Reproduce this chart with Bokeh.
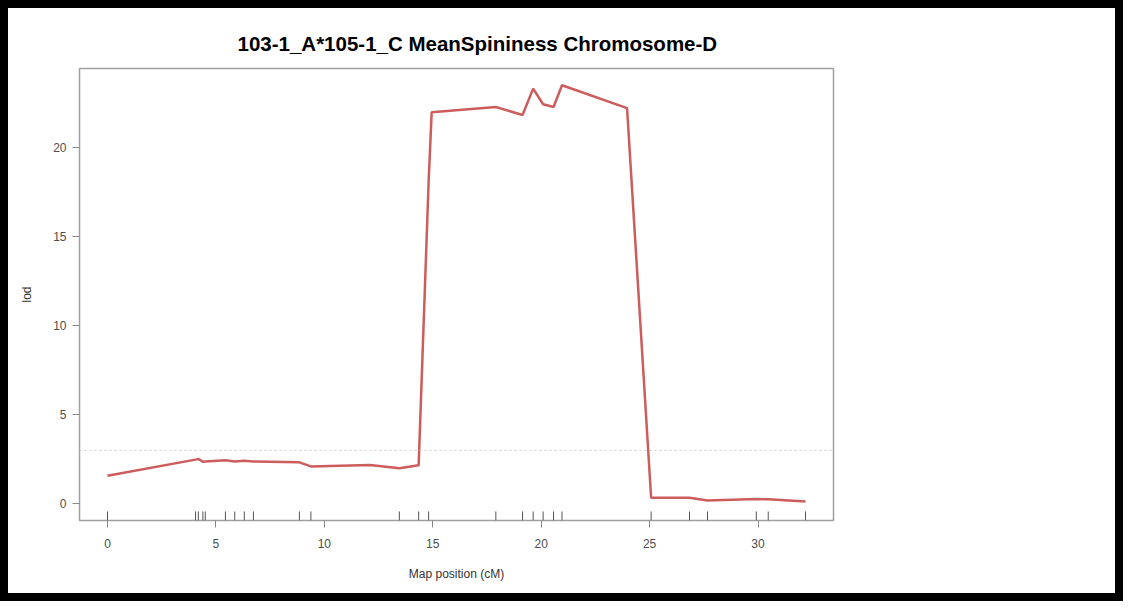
from bokeh.plotting import figure
from bokeh.models import Range1d, FixedTicker, Span
from bokeh.embed import file_html
from bokeh.resources import INLINE

# ---- data ----
pos = [0.0, 4.06, 4.19, 4.40, 4.51, 5.44, 5.87, 6.31, 6.73, 8.85, 9.38, 12.1, 13.46,
       14.35, 14.81, 14.95, 17.91, 19.14, 19.63, 20.09, 20.57, 20.96, 23.96,
       25.07, 26.84, 27.67, 29.92, 30.47, 32.19]
lod = [1.57, 2.48, 2.52, 2.36, 2.38, 2.45, 2.37, 2.42, 2.38, 2.33, 2.10, 2.18, 2.00,
       2.17, 18.1, 22.0, 22.3, 21.85, 23.33, 22.45, 22.3, 23.52, 22.23,
       0.34, 0.34, 0.19, 0.27, 0.25, 0.13]
markers = [0.0, 4.06, 4.19, 4.40, 4.51, 5.44, 5.87, 6.31, 6.73, 8.85, 9.38, 13.46, 14.35,
           14.81, 17.91, 19.14, 19.63, 20.09, 20.57, 20.96, 25.07, 26.84, 27.67,
           29.92, 30.47, 32.19]
x_ticks = [0, 5, 10, 15, 20, 25, 30]
y_ticks = [0, 5, 10, 15, 20]
threshold = 3.0
title_text = "103-1_A*105-1_C MeanSpininess Chromosome-D"

ymin, ymax = -0.94, 24.46
p = figure(width=1123, height=601, output_backend="svg", toolbar_location=None,
           x_range=Range1d(-1.29, 33.48), y_range=Range1d(ymin, ymax),
           min_border_left=71, min_border_right=298, min_border_top=60, min_border_bottom=89)
p.styles = {"border": "8px solid black", "overflow": "hidden"}
p.background_fill_color = "white"
p.border_fill_color = "white"
p.outline_line_color = "#a0a0a0"
p.outline_line_width = 1.5
p.xgrid.visible = False
p.ygrid.visible = False

p.title.text = title_text
p.title.text_font = "Liberation Sans"
p.title.text_font_size = "20.5px"
p.title.text_font_style = "bold"
p.title.text_color = "black"
p.title.align = "left"
p.title.offset = 158
p.title.standoff = 27

for ax in (p.xaxis, p.yaxis):
    ax.axis_line_color = None
    ax.major_tick_line_color = "#888888"
    ax.major_tick_in = 0
    ax.major_tick_out = 7
    ax.minor_tick_line_color = None
    ax.major_label_text_font = "Liberation Sans"
    ax.major_label_text_font_size = "12px"
    ax.major_label_text_color = "#4d4d4d"
    ax.axis_label_text_font = "Liberation Sans"
    ax.axis_label_text_font_size = "12px"
    ax.axis_label_text_font_style = "normal"
    ax.axis_label_text_color = "#333333"

p.xaxis.ticker = FixedTicker(ticks=x_ticks)
p.yaxis.ticker = FixedTicker(ticks=y_ticks)
p.xaxis.axis_label = "Map position (cM)"
p.yaxis.axis_label = "lod"
p.xaxis.major_label_standoff = 11
p.yaxis.major_label_standoff = 6
p.xaxis.axis_label_standoff = 16
p.yaxis.axis_label_standoff = 16

p.add_layout(Span(location=threshold, dimension="width", line_color="#cccccc",
                  line_dash="2 3", line_width=1))

rug_len = (ymax - ymin) * 0.02
p.segment(x0=markers, y0=[ymin] * len(markers), x1=markers,
          y1=[ymin + rug_len] * len(markers), line_color="#555555", line_width=1)

p.line(pos, lod, line_color="#cd5c5c", line_width=2.5)

open("out.html", "w").write(file_html(p, INLINE))
